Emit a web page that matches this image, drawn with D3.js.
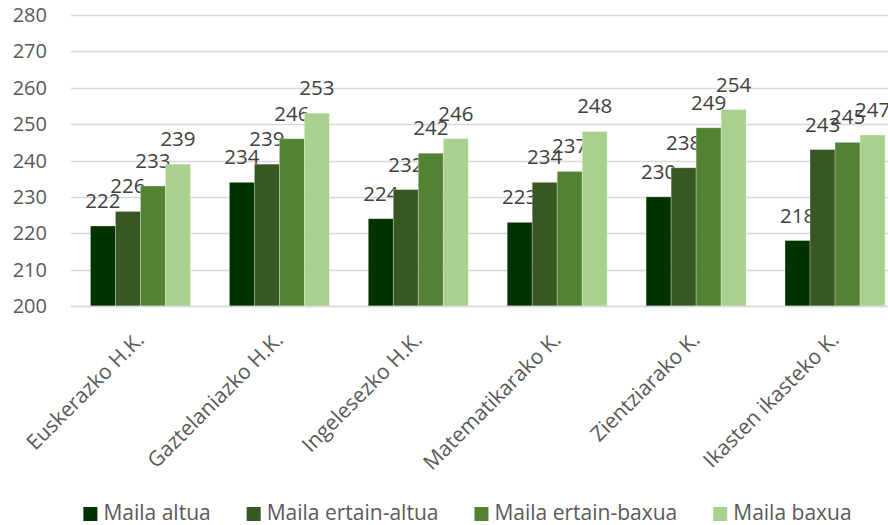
<!DOCTYPE html>
<html>
<head>
<meta charset="utf-8">
<script src="https://cdn.jsdelivr.net/npm/d3@7"></script>
<style>
  html, body { margin: 0; padding: 0; background: #fff; }
  svg { display: block; font-family: "Open Sans", "Liberation Sans", sans-serif; }
</style>
</head>
<body>
<svg id="chart" width="888" height="525"></svg>
<script>
// Subject areas (x categories)
const categories = [
  "Euskerazko H.K.",
  "Gaztelaniazko H.K.",
  "Ingelesezko H.K.",
  "Matematikarako K.",
  "Zientziarako K.",
  "Ikasten ikasteko K."
];

// Achievement level series
const seriesNames = ["Maila altua", "Maila ertain-altua", "Maila ertain-baxua", "Maila baxua"];
const mailaAltua       = [222, 234, 224, 223, 230, 218];
const mailaErtainAltua = [226, 239, 232, 234, 238, 243];
const mailaErtainBaxua = [233, 246, 242, 237, 249, 245];
const mailaBaxua       = [239, 253, 246, 248, 254, 247];
const seriesValues = [mailaAltua, mailaErtainAltua, mailaErtainBaxua, mailaBaxua];
const seriesColors = ["#003300", "#385723", "#548235", "#a9d18e"];

// Y axis ticks
const yTicks = [200, 210, 220, 230, 240, 250, 260, 270, 280];

const svg = d3.select("#chart");
const W = 888, H = 525;
const plot = { left: 71, right: 904.5, top: 15, bottom: 306 };

const y = d3.scaleLinear().domain([200, 280]).range([plot.bottom, plot.top]);
const x0 = d3.scaleBand().domain(categories)
  .range([plot.left, plot.right]).paddingInner(0.28).paddingOuter(0.14);
const x1 = d3.scaleBand().domain(seriesNames).range([0, x0.bandwidth()]).padding(0);

const textColor = "#595959";
const labelColor = "#404040";

// Horizontal gridlines
svg.append("g").selectAll("line").data(yTicks).join("line")
  .attr("x1", plot.left).attr("x2", W)
  .attr("y1", d => Math.round(y(d)) + 0.5).attr("y2", d => Math.round(y(d)) + 0.5)
  .attr("stroke", "#d9d9d9").attr("stroke-width", 1.3);

// Y tick labels
svg.append("g").selectAll("text").data(yTicks).join("text")
  .attr("x", 47).attr("y", d => y(d)).attr("dy", "0.35em")
  .attr("text-anchor", "end").attr("font-size", 20).attr("fill", textColor)
  .text(d => d);

// Bars and value labels, one series at a time
seriesNames.forEach((name, si) => {
  const g = svg.append("g");
  const vals = seriesValues[si];
  g.selectAll("rect").data(categories).join("rect")
    .attr("x", (c) => x0(c) + x1(name))
    .attr("y", (c, i) => y(vals[i]))
    .attr("width", x1.bandwidth())
    .attr("height", (c, i) => plot.bottom - y(vals[i]))
    .attr("fill", seriesColors[si])
    .attr("stroke", "rgba(255,255,255,0.35)").attr("stroke-width", 0.8);
  g.selectAll("text").data(categories).join("text")
    .attr("x", (c) => x0(c) + x1(name) + x1.bandwidth() / 2)
    .attr("y", (c, i) => y(vals[i]) - 18)
    .attr("text-anchor", "middle").attr("font-size", 20.5).attr("fill", labelColor)
    .text((c, i) => vals[i]);
});

// Category axis line
svg.append("line")
  .attr("x1", plot.left).attr("x2", W)
  .attr("y1", Math.round(plot.bottom) + 0.5).attr("y2", Math.round(plot.bottom) + 0.5)
  .attr("stroke", "#d9d9d9").attr("stroke-width", 1.3);

// Rotated category labels
svg.append("g").selectAll("text").data(categories).join("text")
  .attr("transform", c => `translate(${x0(c) + x0.bandwidth() / 2 + 5},${plot.bottom + 35}) rotate(-45)`)
  .attr("text-anchor", "end").attr("font-size", 21).attr("fill", textColor)
  .text(c => c);

// Legend
const legend = svg.append("g");
const items = legend.selectAll("g").data(seriesNames).join("g");
items.append("rect").attr("width", 14).attr("height", 14).attr("y", 507)
  .attr("fill", (d, i) => seriesColors[i]);
items.append("text").attr("x", 20).attr("y", 519.5)
  .attr("font-size", 21).attr("fill", textColor).text(d => d);
let widths = [];
items.each(function () { widths.push(d3.select(this).select("text").node().getComputedTextLength()); });
const gap = 36;
const total = d3.sum(widths, w => 20 + w) + gap * (widths.length - 1);
let cx = 467.5 - total / 2;
items.each(function (d, i) {
  d3.select(this).attr("transform", `translate(${cx},0)`);
  cx += 20 + widths[i] + gap;
});
</script>
</body>
</html>
